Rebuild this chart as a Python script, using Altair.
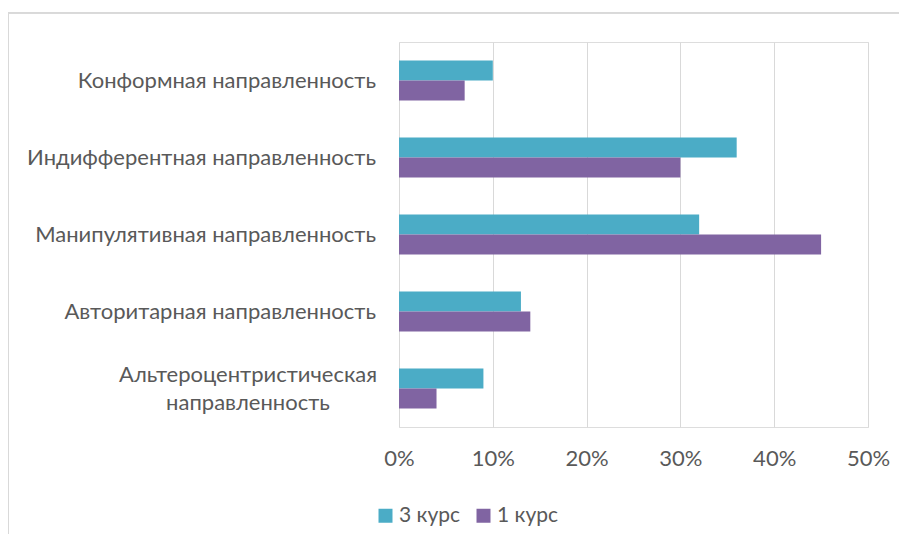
import altair as alt
import pandas as pd

categories = [
    "Конформная направленность",
    "Индифферентная направленность",
    "Манипулятивная направленность",
    "Авторитарная направленность",
    "Альтероцентристическая направленность",
]
split_label = ["Альтероцентристическая", "направленность"]
series = ["3 курс", "1 курс"]
values_3 = [0.10, 0.36, 0.32, 0.13, 0.09]
values_1 = [0.07, 0.30, 0.45, 0.14, 0.04]
colors = ["#4BACC6", "#8064A2"]
x_ticks = [0, 0.1, 0.2, 0.3, 0.4, 0.5]

rows = []
for c, v3, v1 in zip(categories, values_3, values_1):
    rows.append({"cat": c, "series": series[0], "value": v3})
    rows.append({"cat": c, "series": series[1], "value": v1})
df = pd.DataFrame(rows)
df_single = pd.DataFrame({"cat": categories[:4], "label": categories[:4]})
df_split = pd.DataFrame({"cat": [categories[4]], "label": [split_label]})

FONT = "Lato"
TXT = "#595959"
GRID = "#D9D9D9"
FS = 22

y_scale = alt.Scale(domain=categories, paddingInner=0.48, paddingOuter=0.24)

bars = alt.Chart(df).mark_bar().encode(
    x=alt.X(
        "value:Q",
        scale=alt.Scale(domain=[0, 0.5]),
        axis=alt.Axis(
            values=x_ticks,
            format=".0%",
            title=None,
            grid=True,
            gridColor=GRID,
            domain=False,
            ticks=False,
            labelFlush=False,
            labelFont=FONT,
            labelFontSize=FS,
            labelColor=TXT,
            labelPadding=21,
        ),
    ),
    y=alt.Y("cat:N", sort=categories, scale=y_scale, axis=None),
    yOffset=alt.YOffset("series:N", sort=series),
    color=alt.Color(
        "series:N",
        sort=series,
        scale=alt.Scale(domain=series, range=colors),
        legend=alt.Legend(
            title=None,
            orient="none",
            direction="horizontal",
            legendX=-24,
            legendY=463,
            symbolType="square",
            symbolSize=196,
            symbolStrokeWidth=0,
            labelFont=FONT,
            labelFontSize=FS - 1,
            labelColor=TXT,
            columnPadding=12,
            labelOffset=3,
        ),
    ),
)

single_text = alt.Chart(df_single).mark_text(
    font=FONT, fontSize=FS, color=TXT, align="right", baseline="middle"
).encode(
    x=alt.value(-23),
    y=alt.Y("cat:N", sort=categories, scale=y_scale, axis=None),
    text="label",
)

split_text = alt.Chart(df_split).mark_text(
    font=FONT, fontSize=FS, color=TXT, align="center", baseline="middle",
    lineHeight=28, dy=-14
).encode(
    x=alt.value(-151),
    y=alt.Y("cat:N", sort=categories, scale=y_scale, axis=None),
    text="label",
)

frame_top = alt.Chart(df).mark_rule(color=GRID, strokeWidth=1).encode(
    x=alt.value(-391), x2=alt.value(700), y=alt.value(-29)
)
frame_left = alt.Chart(df).mark_rule(color=GRID, strokeWidth=1).encode(
    x=alt.value(-390.5), y=alt.value(-29), y2=alt.value(700)
)

chart = (
    alt.layer(frame_top, frame_left, bars, single_text, split_text)
    .properties(
        width=469,
        height=385,
        autosize=alt.AutoSizeParams(type="none"),
        padding={"left": 391, "top": 34, "right": 31, "bottom": 107},
    )
    .configure_view(stroke=None)
    .configure(background="white")
)

chart.save("out.html", embed_options={"renderer": "svg", "actions": False})
